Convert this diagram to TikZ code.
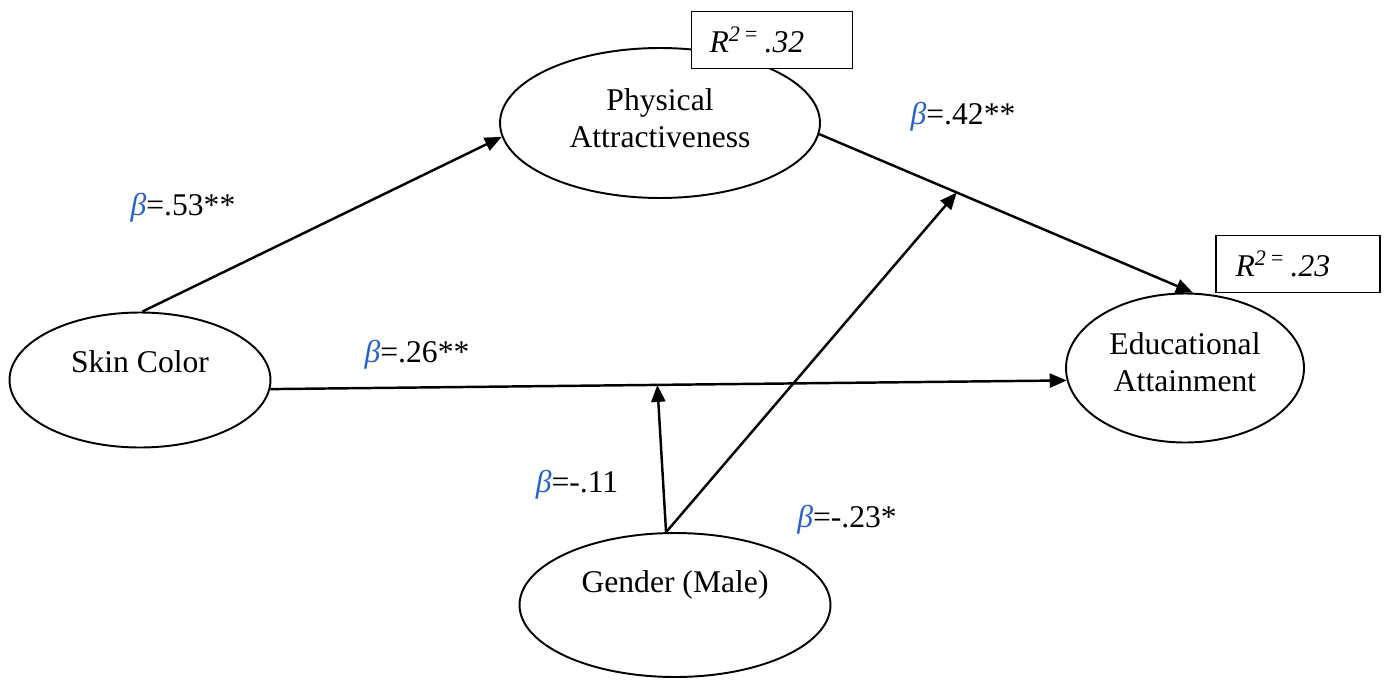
\documentclass[tikz,border=0pt]{standalone}
\usepackage{fontspec}
\setmainfont{Liberation Serif}
\usetikzlibrary{arrows.meta,shapes.geometric}
\definecolor{betablue}{HTML}{2A62C4}
\newcommand{\bet}{\textcolor{betablue}{\textit{β}}}
\tikzset{
  latent/.style={
    ellipse,draw=black,fill=white,
    line width=1.1pt,inner sep=0pt
  },
  vtext/.style={
    align=center,inner sep=0pt,
    font=\fontsize{18}{21}\selectfont
  },
  coef/.style={inner sep=0pt,font=\fontsize{18}{21}\selectfont},
  rbox/.style={
    draw=black,fill=white,line width=1.1pt,
    minimum height=11.4mm,text width=25mm,inner xsep=3.6mm,
    align=left,font=\fontsize{18}{21}\selectfont\itshape
  },
  effect/.style={-{Triangle[length=3.4mm,width=2.8mm]},draw=black,line width=1.4pt}
}
\begin{document}
\begin{tikzpicture}[x=0.02cm,y=-0.02cm]
\useasboundingbox (0,0) rectangle (1385,679);

\node[latent,minimum width=5.22cm,minimum height=2.7cm,
  label={[vtext,yshift=3.6mm]center:Skin Color}] (skin) at (140,380) {};
\node[latent,minimum width=6.4cm,minimum height=3cm,
  label={[vtext,yshift=1mm]center:Physical\\Attractiveness}] (phys) at (660,123) {};
\node[latent,minimum width=4.76cm,minimum height=2.98cm,
  label={[vtext,yshift=1.2mm]center:Educational\\Attainment}] (edu) at (1185,368) {};
\node[latent,minimum width=6.22cm,minimum height=2.88cm,
  label={[vtext,yshift=4mm]center:Gender (Male)}] (gender) at (675,605) {};

\node[rbox,minimum width=3.22cm] (rphys) at (772,40) {R\textsuperscript{2\,=}\,.32};
\node[rbox,minimum width=3.28cm] (redu) at (1298,264) {R\textsuperscript{2\,=}\,.23};

\draw[effect] (skin.88) -- (phys.185);
\draw[effect] (skin.356) -- coordinate[pos=.486] (modskin) (edu.186);
\draw[effect] (phys.356) -- coordinate[pos=.368] (modphys) (edu.84);
\draw[effect] (gender.97) -- (modskin);
\draw[effect] (gender.97) -- (modphys);

\node[coef] (b1) at (183,208) {\bet=.53**};
\node[coef] (b2) at (963,117) {\bet=.42**};
\node[coef] (b3) at (417,355) {\bet=.26**};
\node[coef] (b4) at (577,485) {\bet=-.11};
\node[coef] (b5) at (847,520) {\bet=-.23*};
\end{tikzpicture}
\end{document}
